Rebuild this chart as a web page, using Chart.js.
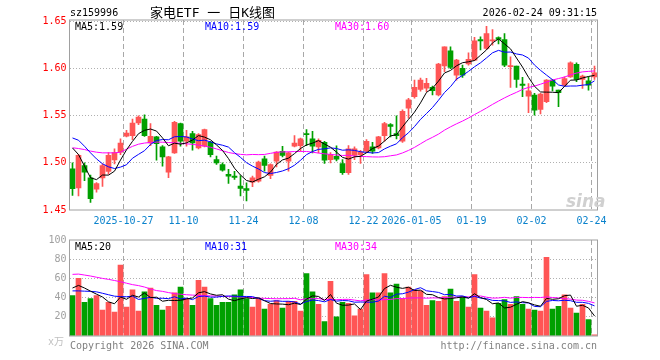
<!DOCTYPE html>
<html>
<head>
<meta charset="utf-8">
<script src="https://cdn.jsdelivr.net/npm/chart.js@4.4.1/dist/chart.umd.min.js"></script>
<style>
  body { margin: 0; background: #fff; }
  #wrap { position: relative; width: 660px; height: 360px; overflow: hidden;
          font-family: "DejaVu Sans Mono", monospace; font-size: 10px; }
  #wrap canvas { position: absolute; left: 0; }
  .t { position: absolute; white-space: nowrap; line-height: 12px; }
</style>
</head>
<body>
<div id="wrap">
  <canvas id="kChart" width="660" height="232" style="top:0"></canvas>
  <canvas id="vChart" width="660" height="115" style="top:230px"></canvas>

  <div class="t" style="left:70px;top:7px;color:#000">sz159996</div>
  <div class="t" style="left:150px;top:5px;font-size:13px;line-height:15px;color:#000;font-family:'DejaVu Sans Mono','Noto Sans CJK SC',monospace">家电ETF 一 日K线图</div>
  <div class="t" style="right:63px;top:7px;color:#000">2026-02-24 09:31:15</div>

  <div class="t" style="left:75px;top:21px;color:#000">MA5:1.59</div>
  <div class="t" style="left:205px;top:21px;color:#0000ff">MA10:1.59</div>
  <div class="t" style="left:335px;top:21px;color:#ff00ff">MA30:1.60</div>

  <div class="t" style="left:75px;top:241px;color:#000">MA5:20</div>
  <div class="t" style="left:205px;top:241px;color:#0000ff">MA10:31</div>
  <div class="t" style="left:335px;top:241px;color:#ff00ff">MA30:34</div>

  <div class="t" style="left:48px;top:336px;color:#c0c0c0;font-family:'DejaVu Sans Mono','Noto Sans CJK SC',monospace">x万</div>
  <div class="t" style="left:70px;top:340px;color:#808080">Copyright 2026 SINA.COM</div>
  <div class="t" style="right:63px;top:340px;color:#808080">http://finance.sina.com.cn</div>
  <div class="t" style="left:566px;top:192px;font-size:17px;line-height:18px;font-weight:bold;font-style:italic;color:#d0d0d0;font-family:'DejaVu Sans',sans-serif">sina</div>
</div>

<script>
// daily K-line of sz159996, 88 trading days
const DATES = [
  "2025-10-14","2025-10-15","2025-10-16","2025-10-17","2025-10-20","2025-10-21","2025-10-22","2025-10-23","2025-10-24",
  "2025-10-27","2025-10-28","2025-10-29","2025-10-30","2025-10-31",
  "2025-11-03","2025-11-04","2025-11-05","2025-11-06","2025-11-07",
  "2025-11-10","2025-11-11","2025-11-12","2025-11-13","2025-11-14",
  "2025-11-17","2025-11-18","2025-11-19","2025-11-20","2025-11-21",
  "2025-11-24","2025-11-25","2025-11-26","2025-11-27","2025-11-28",
  "2025-12-01","2025-12-02","2025-12-03","2025-12-04","2025-12-05",
  "2025-12-08","2025-12-09","2025-12-10","2025-12-11","2025-12-12",
  "2025-12-15","2025-12-16","2025-12-17","2025-12-18","2025-12-19",
  "2025-12-22","2025-12-23","2025-12-24","2025-12-25","2025-12-26",
  "2025-12-29","2025-12-30","2025-12-31",
  "2026-01-05","2026-01-06","2026-01-07","2026-01-08","2026-01-09",
  "2026-01-12","2026-01-13","2026-01-14","2026-01-15","2026-01-16",
  "2026-01-19","2026-01-20","2026-01-21","2026-01-22","2026-01-23",
  "2026-01-26","2026-01-27","2026-01-28","2026-01-29","2026-01-30",
  "2026-02-02","2026-02-03","2026-02-04","2026-02-05","2026-02-06",
  "2026-02-09","2026-02-10","2026-02-11","2026-02-12","2026-02-13",
  "2026-02-24"
];

const OPEN = [1.4937,1.4733,1.4972,1.484,1.472,1.484,1.491,1.503,1.5113,1.5282,
  1.5289,1.5423,1.5465,1.5211,1.5275,1.5169,1.4902,1.5106,1.5416,1.5229,
  1.531,1.5159,1.5176,1.5218,1.5035,1.4983,1.4877,1.486,1.4754,1.4726,
  1.4796,1.4807,1.5042,1.4866,1.5018,1.5123,1.5018,1.5176,1.5183,1.531,
  1.5254,1.5169,1.5218,1.5035,1.507,1.4993,1.4895,1.5078,1.5088,1.5123,
  1.5169,1.5159,1.5289,1.5405,1.531,1.5229,1.558,1.5702,1.578,1.5791,
  1.58,1.572,1.6027,1.6188,1.5931,1.6002,1.6048,1.609,1.6308,1.6213,
  1.6294,1.6329,1.6308,1.602,1.6027,1.5836,1.5708,1.5718,1.5567,1.5648,
  1.5877,1.5771,1.5824,1.5912,1.6046,1.5884,1.587,1.5912];
const HIGH = [1.500,1.509,1.500,1.487,1.479,1.499,1.511,1.515,1.5254,1.5345,
  1.5465,1.550,1.551,1.5416,1.5282,1.5183,1.507,1.544,1.5423,1.5345,
  1.5335,1.531,1.5359,1.5229,1.5071,1.500,1.493,1.491,1.4866,1.4789,
  1.486,1.5018,1.5071,1.499,1.512,1.5176,1.5113,1.5289,1.5264,1.5352,
  1.5335,1.5254,1.5229,1.511,1.518,1.5035,1.5183,1.5169,1.5134,1.5247,
  1.5218,1.5282,1.543,1.5416,1.550,1.5563,1.5685,1.5878,1.590,1.5896,
  1.5815,1.6055,1.623,1.623,1.6097,1.6037,1.6167,1.633,1.6337,1.6449,
  1.6414,1.6337,1.6372,1.6125,1.6027,1.5906,1.5842,1.5736,1.5738,1.5884,
  1.5884,1.5771,1.5912,1.6071,1.606,1.593,1.5912,1.6025];
const LOW = [1.4655,1.4648,1.481,1.458,1.469,1.475,1.488,1.499,1.5088,1.5275,
  1.5247,1.5405,1.528,1.5183,1.5028,1.4965,1.4842,1.5099,1.5176,1.5176,
  1.5134,1.5148,1.5169,1.5064,1.4983,1.4912,1.4782,1.4824,1.4648,1.4595,
  1.4747,1.4796,1.4912,1.4831,1.4958,1.5064,1.4912,1.5169,1.5123,1.5183,
  1.5106,1.5106,1.4993,1.500,1.502,1.4877,1.4877,1.5035,1.4993,1.5113,
  1.5099,1.5148,1.5229,1.5275,1.5254,1.5218,1.5474,1.5685,1.576,1.5755,
  1.572,1.571,1.5966,1.600,1.5878,1.5906,1.6037,1.6083,1.6199,1.6202,
  1.6248,1.6262,1.602,1.580,1.580,1.5702,1.5532,1.5507,1.5518,1.5637,
  1.5764,1.5595,1.5813,1.5905,1.586,1.5789,1.5771,1.5884];
const CLOSE = [1.4726,1.5081,1.4902,1.462,1.478,1.497,1.508,1.511,1.5211,1.5317,
  1.5423,1.5486,1.5289,1.5282,1.5204,1.5064,1.5064,1.543,1.5229,1.5275,
  1.5211,1.5299,1.5352,1.5088,1.500,1.4923,1.486,1.4845,1.4729,1.4708,
  1.4842,1.5007,1.4972,1.4983,1.5113,1.5078,1.5106,1.5211,1.5254,1.5299,
  1.5176,1.524,1.5028,1.5088,1.504,1.4895,1.5148,1.5148,1.5113,1.5229,
  1.5123,1.5275,1.5416,1.5387,1.5289,1.5546,1.5668,1.580,1.5878,1.5843,
  1.5766,1.6048,1.623,1.6012,1.609,1.5931,1.6097,1.6294,1.6294,1.6372,
  1.6301,1.6308,1.6037,1.6027,1.5886,1.5822,1.5764,1.556,1.5729,1.5877,
  1.5813,1.5743,1.5894,1.606,1.5884,1.5919,1.5824,1.5954];

const MA5 = [1.5158,1.5088,1.4965,1.4842,1.4822,1.4871,1.4870,1.4912,1.5030,1.5138,
  1.5228,1.5309,1.5345,1.5359,1.5337,1.5265,1.5181,1.5209,1.5198,1.5212,
  1.5242,1.5289,1.5273,1.5245,1.5190,1.5132,1.5045,1.4943,1.4871,1.4813,
  1.4797,1.4826,1.4852,1.4902,1.4983,1.5031,1.5050,1.5098,1.5152,1.5190,
  1.5209,1.5236,1.5199,1.5166,1.5114,1.5058,1.5040,1.5064,1.5069,1.5107,
  1.5152,1.5178,1.5231,1.5286,1.5298,1.5383,1.5461,1.5538,1.5636,1.5747,
  1.5791,1.5867,1.5953,1.5980,1.6029,1.6062,1.6072,1.6085,1.6141,1.6198,
  1.6272,1.6314,1.6262,1.6209,1.6112,1.6016,1.5907,1.5812,1.5752,1.5750,
  1.5749,1.5744,1.5811,1.5877,1.5879,1.5900,1.5916,1.5928];
const MA10 = [1.5264,1.5240,1.5176,1.5106,1.5042,1.4990,1.4958,1.4940,1.4955,1.4980,
  1.5049,1.5090,1.5129,1.5195,1.5237,1.5247,1.5245,1.5277,1.5279,1.5275,
  1.5253,1.5235,1.5241,1.5222,1.5201,1.5187,1.5167,1.5108,1.5058,1.5002,
  1.4965,1.4935,1.4897,1.4887,1.4898,1.4914,1.4938,1.4975,1.5027,1.5087,
  1.5120,1.5143,1.5149,1.5159,1.5152,1.5134,1.5138,1.5132,1.5118,1.5111,
  1.5105,1.5109,1.5148,1.5177,1.5202,1.5267,1.5319,1.5385,1.5461,1.5523,
  1.5587,1.5664,1.5746,1.5808,1.5888,1.5927,1.5970,1.6019,1.6061,1.6113,
  1.6167,1.6193,1.6174,1.6175,1.6155,1.6144,1.6111,1.6037,1.5981,1.5931,
  1.5882,1.5826,1.5812,1.5815,1.5815,1.5824,1.5830,1.5870];
const MA30 = [1.5160,1.5152,1.5141,1.5125,1.5113,1.5106,1.5106,1.5106,1.5113,1.5145,
  1.5175,1.5198,1.5210,1.5217,1.5220,1.5219,1.5216,1.5212,1.5207,1.5202,
  1.5196,1.5188,1.5178,1.5165,1.5148,1.5128,1.5110,1.5098,1.5090,1.5085,
  1.5089,1.5087,1.5089,1.5101,1.5112,1.5116,1.5117,1.5120,1.5121,1.5121,
  1.5113,1.5104,1.5096,1.5089,1.5084,1.5078,1.5081,1.5072,1.5068,1.5066,
  1.5063,1.5062,1.5065,1.5075,1.5084,1.5105,1.5132,1.5164,1.5202,1.5240,
  1.5271,1.5305,1.5347,1.5382,1.5414,1.5443,1.5476,1.5512,1.5546,1.5582,
  1.5620,1.5655,1.5689,1.5720,1.5748,1.5779,1.5800,1.5814,1.5834,1.5856,
  1.5879,1.5894,1.5910,1.5933,1.5952,1.5965,1.5970,1.5975];

// volume, 万
const VOLUME = [42,60,35,39,42,27,35,25,74,30,
  48,26,46,50,32,27,31,45,51,39,
  32,58,51,39,32,35,35,43,48,39,
  30,39,28,33,37,29,36,36,26,65,
  46,33,15,57,20,35,34,21,28,64,
  45,45,65,45,54,39,51,48,47,32,
  37,36,41,49,36,41,30,64,29,26,
  19,34,38,33,41,33,28,27,26,82,
  28,31,43,29,24,33,17,1.3];
const VMA5 = [50,52.7,50,46.7,43.6,40.6,35.6,33.6,40.6,38.2,
  42.4,40.6,44.8,40,40.4,36.2,37.2,37,37.2,38.6,
  39.6,45,46.2,43.8,42.4,43,38.4,36.8,38.6,40,
  39,39.8,36.8,33.8,33.4,33.2,32.6,34.2,32.8,38.4,
  41.8,41.2,37,43.2,34.2,32,32.2,33.4,27.6,36.4,
  38.4,40.6,49.4,52.8,50.8,49.6,50.8,47.4,47.8,43.4,
  43,40,38.6,39,39.8,40.6,39.4,44,40,38,
  33.6,34.4,29.2,30,33,35.8,34.6,32.4,31,39.2,
  38.2,38.8,42,42.6,31,32,29.2,20.9];
const VMA10 = [47,47,46.7,46.5,46,44.5,43,41.5,41,40.9,
  41.5,38.1,39.2,40.3,39.3,39.3,38.9,40.9,38.6,39.5,
  37.9,41.1,41.6,40.5,40.5,41.3,41.7,41.5,41.2,41.2,
  41,39.1,36.8,36.2,36.7,36.1,36.2,35.5,33.3,35.9,
  37.5,36.9,35.6,38,36.3,36.9,36.7,35.2,35.4,35.3,
  35.2,36.4,41.4,40.2,43.6,44,45.7,48.4,50.3,47.1,
  46.3,45.4,43,43.4,41.6,41.8,39.7,41.3,39.5,38.9,
  37.1,36.9,36.6,35,35.5,34.7,34.5,30.8,30.5,36.1,
  37,36.7,37.2,36.8,35.1,35.1,34,31.4];
const VMA30 = [64.2,64.5,63.5,62.5,61.2,60,59,57.8,56.5,55,
  53.5,52.5,51,49,47.3,46.5,45.2,44.2,43.5,43,
  42.6,42.3,42,41.8,41.6,41.4,41.1,40.9,40.7,40.5,
  40.1,39.4,39.2,39,38.8,38.9,38.9,39.3,37.7,38.9,
  38.8,39,38,38.2,37.8,38.1,38.2,37.4,36.6,37.5,
  37.9,37.5,37.9,38.1,38.9,39,39.5,39.7,39.7,39.4,
  39.7,39.6,40,40.5,40.5,40.9,40.7,41.6,41.7,40.4,
  39.5,39.6,40.3,39.5,40.2,40.2,40,40.2,40.1,40.7,
  40.1,39.7,38.9,38.4,37.4,37.2,36.1,34.5];

const TICK_DATES = ["2025-10-27","2025-11-10","2025-11-24","2025-12-08","2025-12-22","2026-01-05","2026-01-19","2026-02-02","2026-02-24"];
const TICK_TEXT  = ["2025-10-27","11-10","11-24","12-08","12-22","2026-01-05","01-19","02-02","02-24"];
const PRICE_TICKS = [1.45, 1.50, 1.55, 1.60, 1.65];
const VOL_TICKS = [0, 20, 40, 60, 80, 100];

const RED = "#ff5555", GREEN = "#00a000";
const markIdx = TICK_DATES.map(d => DATES.indexOf(d));
const MONO = { family: "DejaVu Sans Mono", size: 10 };

function candleColor(ctx) {
  const i = ctx.dataIndex;
  return CLOSE[i] >= OPEN[i] ? RED : GREEN;
}

// grey box round the plot area
const frame = {
  id: "frame",
  afterDraw(chart) {
    const { ctx, chartArea: a } = chart;
    ctx.save();
    ctx.strokeStyle = "#a0a0a0";
    ctx.lineWidth = 1;
    ctx.strokeRect(a.left, a.top, a.right - a.left, a.bottom - a.top);
    ctx.restore();
  }
};

function xAxis(showLabels, height) {
  return {
    type: "category",
    offset: true,
    grid: {
      offset: true,
      drawTicks: false,
      lineWidth: 1,
      color: c => markIdx.includes(c.index) ? "#a8a8a8" : "rgba(0,0,0,0)"
    },
    border: { display: false, dash: [5, 3] },
    ticks: {
      display: showLabels,
      autoSkip: false,
      maxRotation: 0,
      minRotation: 0,
      padding: 5,
      labelOffset: -3,
      color: "#0a82cc",
      font: MONO,
      callback: (v, i) => {
        const k = markIdx.indexOf(i);
        return k >= 0 ? TICK_TEXT[k] : "";
      }
    },
    afterFit: s => { s.height = height; }
  };
}

function lineSet(data, color) {
  return { type: "line", data, borderColor: color, borderWidth: 1,
           pointRadius: 0, tension: 0, order: 0 };
}

const baseOpts = {
  responsive: false,
  animation: false,
  events: [],
  plugins: { legend: { display: false }, tooltip: { enabled: false } }
};

new Chart(document.getElementById("kChart"), {
  type: "bar",
  data: {
    labels: DATES,
    datasets: [
      lineSet(MA5, "#000000"),
      lineSet(MA10, "#0000ff"),
      lineSet(MA30, "#ff00ff"),
      { type: "bar", data: DATES.map((d, i) => [LOW[i], HIGH[i]]),
        backgroundColor: candleColor, barThickness: 1, grouped: false, order: 2 },
      { type: "bar", data: DATES.map((d, i) => [OPEN[i], CLOSE[i]]),
        backgroundColor: candleColor, barThickness: 5, grouped: false, minBarLength: 1, order: 1 }
    ]
  },
  options: {
    ...baseOpts,
    layout: { padding: { top: 20, right: 62.5, left: 0, bottom: 0 } },
    scales: {
      x: xAxis(true, 22),
      y: {
        min: 1.45, max: 1.6515,
        afterBuildTicks: s => { s.ticks = PRICE_TICKS.map(v => ({ value: v })); },
        afterFit: s => { s.width = 69.5; },
        grid: { drawTicks: false, color: c => (c.tick && c.tick.value > 1.46) ? "#b0b0b0" : "rgba(0,0,0,0)" },
        border: { display: false, dash: [1, 2] },
        ticks: { color: "#ff0000", font: MONO, padding: 3, callback: v => v.toFixed(2) }
      }
    }
  },
  plugins: [frame]
});

new Chart(document.getElementById("vChart"), {
  type: "bar",
  data: {
    labels: DATES,
    datasets: [
      lineSet(VMA5, "#000000"),
      lineSet(VMA10, "#0000ff"),
      lineSet(VMA30, "#ff00ff"),
      { type: "bar", data: VOLUME, backgroundColor: candleColor,
        barThickness: 5, grouped: false, order: 1 }
    ]
  },
  options: {
    ...baseOpts,
    layout: { padding: { top: 10, right: 62.5, left: 0, bottom: 0 } },
    scales: {
      x: xAxis(false, 5),
      y: {
        min: 0, max: 100,
        afterBuildTicks: s => { s.ticks = VOL_TICKS.map(v => ({ value: v })); },
        afterFit: s => { s.width = 69.5; },
        grid: { drawTicks: false, color: c => (c.tick && c.tick.value > 0 && c.tick.value < 100) ? "#b0b0b0" : "rgba(0,0,0,0)" },
        border: { display: false, dash: [1, 2] },
        ticks: { color: "#a0a0a0", font: MONO, padding: 3, callback: v => v === 0 ? "" : v }
      }
    }
  },
  plugins: [frame]
});
</script>
</body>
</html>
